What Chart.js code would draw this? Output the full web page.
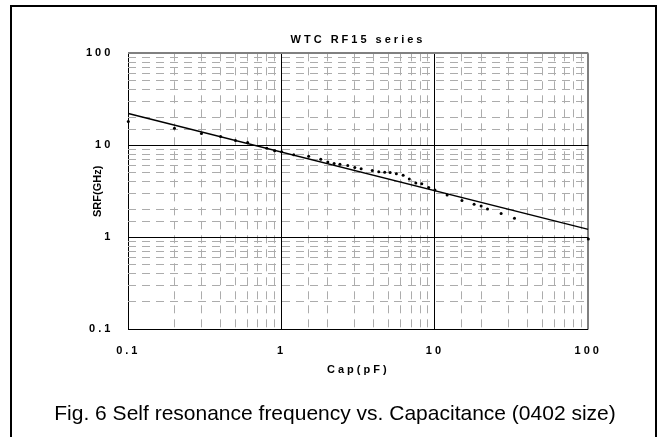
<!DOCTYPE html>
<html>
<head>
<meta charset="utf-8">
<script src="https://cdn.jsdelivr.net/npm/chart.js@4.4.1/dist/chart.umd.min.js"></script>
<style>
  html, body { margin: 0; padding: 0; background: #fff; overflow: hidden; }
  #wrap { position: relative; width: 664px; height: 437px; }
  #frame {
    position: absolute; left: 10px; top: 5px; width: 647px; height: 460px;
    border: 2px solid #000; box-sizing: border-box;
  }
  #chart { position: absolute; left: 0; top: 0; }
  #caption {
    position: absolute; left: 0; width: 670px; top: 401px;
    text-align: center; font: 21px "Liberation Sans", Arial, sans-serif;
    line-height: 24px; color: #000; white-space: nowrap;
  }
</style>
</head>
<body>
<div id="wrap">
  <div id="frame"></div>
  <canvas id="chart" width="664" height="437"></canvas>
  <div id="caption">Fig. 6 Self resonance frequency vs. Capacitance (0402 size)</div>
</div>
<script>
const capValues = [0.1, 0.2, 0.3, 0.4, 0.5, 0.6, 0.8, 0.9, 1.0, 1.2, 1.5, 1.8, 2.0, 2.2, 2.4, 2.7,
  3.0, 3.3, 3.9, 4.3, 4.7, 5.1, 5.6, 6.2, 6.8, 7.5, 8.2, 9.1, 10, 12, 15, 18, 20, 22, 27, 33, 100];
const srfValues = [18.1, 15.3, 13.4, 12.5, 11.3, 10.7, 9.3, 8.7, 8.5, 7.9, 7.6, 7.06, 6.58, 6.34, 6.23, 6.03,
  5.74, 5.56, 5.33, 5.16, 5.09, 5.06, 4.91, 4.72, 4.3, 3.9, 3.83, 3.47, 3.27, 2.88, 2.51, 2.28, 2.19, 2.03, 1.81, 1.61, 0.96];

// fitted trend line (straight on log-log)
const trendCap = [0.1, 100];
const trendSrf = [22.2, 1.22];

const majorTicks = [0.1, 1, 10, 100];
const xTickLabels = ['0.1', '1', '10', '100'];
const yTickLabels = ['0.1', '1', '10', '100'];

const FONT = "'Liberation Sans', Arial, sans-serif";

const isMajor = (v) => Math.abs(Math.log10(v) - Math.round(Math.log10(v))) < 1e-6;
const labelFor = (labels) => (value) => {
  const i = majorTicks.findIndex((m) => Math.abs(m - value) < m * 1e-6);
  return i >= 0 ? labels[i] : '';
};

const gridColor = (ctx) => {
  const v = ctx.tick ? ctx.tick.value : 0;
  if (!isMajor(v)) return '#acacac';
  return Math.abs(v - 100) < 1e-6 ? '#808080' : '#000';
};
const gridWidth = (ctx) => (ctx.tick && Math.abs(ctx.tick.value - 100) < 1e-6 ? 2 : 1);
const gridDash = (ctx) => (ctx.tick && isMajor(ctx.tick.value) ? [] : [8, 6]);

// Excel style spaced-out bold labels
const spacing = {
  id: 'spacing',
  beforeUpdate(chart) { chart.ctx.letterSpacing = '3px'; },
  beforeDraw(chart) {
    chart.ctx.letterSpacing = '3px';
    const ys = chart.scales.y;
    if (ys && !ys._plainTitle) {
      const orig = ys.drawTitle.bind(ys);
      ys.drawTitle = function () {
        const c = this.ctx;
        const keep = c.letterSpacing;
        c.letterSpacing = '0px';
        orig();
        c.letterSpacing = keep;
      };
      ys._plainTitle = true;
    }
  },
};

new Chart(document.getElementById('chart'), {
  type: 'scatter',
  data: {
    datasets: [
      {
        label: 'SRF',
        data: capValues.map((c, i) => ({ x: c, y: srfValues[i] })),
        backgroundColor: '#000',
        borderColor: '#000',
        pointRadius: 1.5,
        pointBorderWidth: 0,
        clip: false,
      },
      {
        label: 'Trend',
        type: 'line',
        data: trendCap.map((c, i) => ({ x: c, y: trendSrf[i] })),
        borderColor: '#000',
        borderWidth: 1.5,
        pointRadius: 0,
        fill: false,
      },
    ],
  },
  options: {
    responsive: false,
    animation: false,
    layout: { padding: { left: 52, right: 0, top: 0, bottom: 0 } },
    plugins: {
      legend: { display: false },
      tooltip: { enabled: false },
      title: {
        display: true,
        text: 'WTC RF15 series',
        color: '#000',
        font: { family: FONT, size: 11, weight: 'bold' },
        padding: { top: 33.4, bottom: 6.7 },
      },
    },
    scales: {
      x: {
        type: 'logarithmic',
        position: 'bottom',
        min: 0.1,
        max: 100,
        afterFit: (s) => { s.height = 107.7; },
        grid: { color: gridColor, lineWidth: gridWidth, drawTicks: false },
        border: { display: false, dash: gridDash },
        ticks: {
          autoSkip: false,
          maxRotation: 0,
          padding: 15,
          color: '#000',
          font: { family: FONT, size: 11, weight: 'bold' },
          callback: labelFor(xTickLabels),
        },
        title: {
          display: true,
          text: 'Cap(pF)',
          color: '#000',
          font: { family: FONT, size: 11, weight: 'bold' },
          padding: { top: 0, bottom: 60.4 },
        },
      },
      y: {
        type: 'logarithmic',
        position: 'left',
        min: 0.1,
        max: 100,
        afterFit: (s) => { s.width = 76.3; },
        grid: { color: gridColor, lineWidth: gridWidth, drawTicks: false },
        border: { display: false, dash: gridDash },
        ticks: {
          autoSkip: false,
          padding: 15,
          color: '#000',
          font: { family: FONT, size: 11, weight: 'bold' },
          callback: labelFor(yTickLabels),
        },
        title: {
          display: true,
          text: 'SRF(GHz)',
          color: '#000',
          font: { family: FONT, size: 11, weight: 'bold' },
          padding: { top: 39.4, bottom: 0 },
        },
      },
      yr: {
        type: 'linear',
        position: 'right',
        afterFit: (s) => { s.width = 75.7; },
        grid: { display: false },
        border: { display: false },
        ticks: { display: false },
      },
    },
  },
  plugins: [spacing],
});
</script>
</body>
</html>
